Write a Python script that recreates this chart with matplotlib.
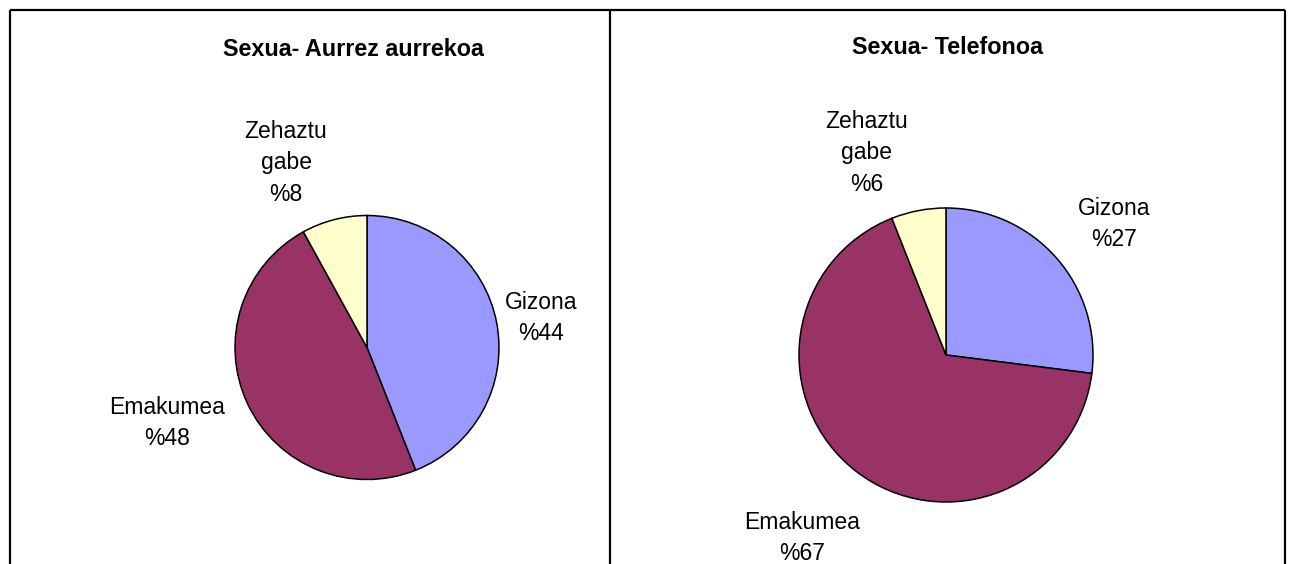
import matplotlib
matplotlib.use("Agg")
import matplotlib.pyplot as plt

plt.rcParams['font.family'] = ['Liberation Sans', 'DejaVu Sans']

# ---- data ----
categories = ["Gizona", "Emakumea", "Zehaztu\ngabe"]
values_aurrez = [44, 48, 8]
values_telefono = [27, 67, 6]
titles = ["Sexua- Aurrez aurrekoa", "Sexua- Telefonoa"]
colors = ["#9999FF", "#993366", "#FFFFCC"]

# ---- layout (pixels) ----
W, H = 1289, 564
DPI = 100
pie_geom = [(367, 347.5, 132), (946, 355, 147)]  # cx, cy, r
title_pos = [(353, 49), (947, 47)]
label_pos = [
    [(541, 318), (167, 423), (286, 163)],
    [(1114, 224), (802, 538), (867, 153)],
]
LABEL_SIZE = 16.5
TITLE_SIZE = 16.8

fig = plt.figure(figsize=(W / DPI, H / DPI), dpi=DPI)

# background frame lines
bg = fig.add_axes([0, 0, 1, 1])
bg.set_xlim(0, W)
bg.set_ylim(H, 0)
bg.axis('off')
bg.plot([10, 10], [10, H + 5], color='black', lw=1.6, solid_capstyle='butt')
bg.plot([10, 1285], [10, 10], color='black', lw=1.6, solid_capstyle='butt')
bg.plot([610, 610], [10, H + 5], color='black', lw=1.6, solid_capstyle='butt')
bg.plot([1285, 1285], [10, H + 5], color='black', lw=1.6, solid_capstyle='butt')

for i, vals in enumerate([values_aurrez, values_telefono]):
    cx, cy, r = pie_geom[i]
    ax = fig.add_axes([(cx - r) / W, (H - cy - r) / H, 2 * r / W, 2 * r / H])
    ax.pie(vals, colors=colors, startangle=90, counterclock=False,
           wedgeprops=dict(edgecolor='black', linewidth=1.1))
    ax.set_xlim(-1.0, 1.0)
    ax.set_ylim(-1.0, 1.0)
    ax.set_aspect('auto')
    ax.axis('off')
    for j, (cat, v) in enumerate(zip(categories, vals)):
        x, y = label_pos[i][j]
        bg.text(x, y, f"{cat}\n%{v}", ha='center', va='center',
                multialignment='center', fontsize=LABEL_SIZE, linespacing=1.45)
    tx, ty = title_pos[i]
    bg.text(tx, ty, titles[i], ha='center', va='center',
            fontsize=TITLE_SIZE, fontweight='bold')

fig.savefig("out.png", dpi=DPI)
